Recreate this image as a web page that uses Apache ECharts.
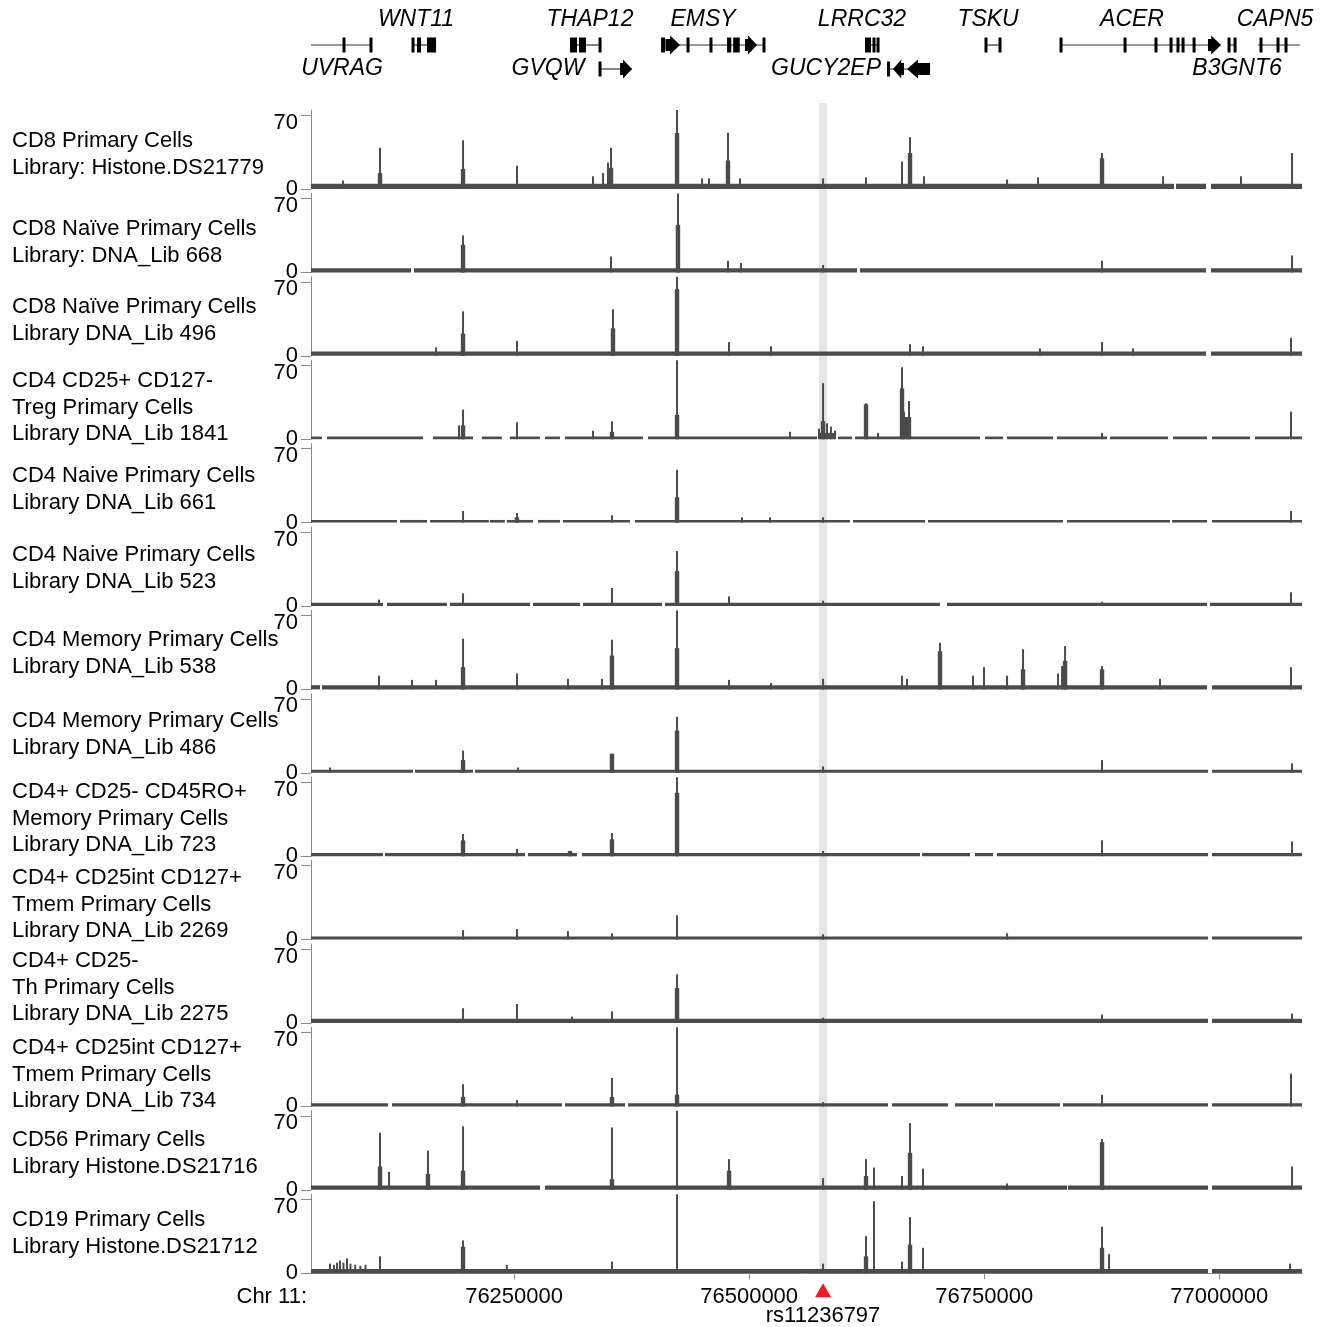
<!DOCTYPE html>
<html><head><meta charset="utf-8">
<script src="https://cdn.jsdelivr.net/npm/echarts@6/dist/echarts.min.js"></script>
<style>html,body{margin:0;padding:0;background:#fff}#c{width:1328px;height:1327px}</style>
</head><body><div id="c"></div>
<script>
// ---------- DATA (genomic positions in kb on chr11) ----------
const xTicks = [76250, 76500, 76750, 77000];
const yTicks = [0, 70];
const snpName = 'rs11236797';
const snpPos = 76578.6;
const highlightRange = [76574.3, 76582.8];

const trackLabels = [
  ['CD8 Primary Cells', 'Library: Histone.DS21779'],
  ['CD8 Naïve Primary Cells', 'Library: DNA_Lib 668'],
  ['CD8 Naïve Primary Cells', 'Library DNA_Lib 496'],
  ['CD4 CD25+ CD127-', 'Treg Primary Cells', 'Library DNA_Lib 1841'],
  ['CD4 Naive Primary Cells', 'Library DNA_Lib 661'],
  ['CD4 Naive Primary Cells', 'Library DNA_Lib 523'],
  ['CD4 Memory Primary Cells', 'Library DNA_Lib 538'],
  ['CD4 Memory Primary Cells', 'Library DNA_Lib 486'],
  ['CD4+ CD25- CD45RO+', 'Memory Primary Cells', 'Library DNA_Lib 723'],
  ['CD4+ CD25int CD127+', 'Tmem Primary Cells', 'Library DNA_Lib 2269'],
  ['CD4+ CD25-', 'Th Primary Cells', 'Library DNA_Lib 2275'],
  ['CD4+ CD25int CD127+', 'Tmem Primary Cells', 'Library DNA_Lib 734'],
  ['CD56 Primary Cells', 'Library Histone.DS21716'],
  ['CD19 Primary Cells', 'Library Histone.DS21712']
];

// peaks: [position kb, height, shoulder height]
const peaksT01 = [[76068.0,8,0],[76107.4,39,15],[76195.7,46,19],[76253.1,22,0],[76333.9,12,0],[76344.6,15,0],[76349.9,25,0],[76353.1,39,20],[76423.3,76,53],[76449.9,10,0],[76457.3,10,0],[76477.5,53,27],[76490.3,10,0],[76578.6,10,0],[76624.3,11,0],[76662.6,26,0],[76671.1,49,34],[76686.0,12,0],[76774.3,9,0],[76807.2,11,0],[76875.3,34,29],[76940.2,12,0],[77023.1,12,0],[77077.4,34,0]];
const peaksT02 = [[76195.7,35,26],[76353.1,15,0],[76424.3,76,45],[76477.5,11,0],[76491.3,9,0],[76578.6,7,0],[76875.3,11,0],[77077.4,16,0]];
const peaksT03 = [[76167.0,8,0],[76195.7,42,21],[76253.1,14,0],[76355.2,44,26],[76423.3,76,63],[76478.6,13,0],[76523.3,9,0],[76671.1,11,0],[76684.9,9,0],[76809.3,7,0],[76875.3,13,0],[76908.3,7,0],[77076.3,17,0]];
const peaksT04 = [[76191.4,13,0],[76195.7,28,13],[76253.1,16,0],[76333.9,8,0],[76354.1,17,7],[76423.3,76,23],[76543.5,7,0],[76574.3,10,0],[76578.6,53,17],[76582.8,15,0],[76587.0,12,0],[76591.3,8,0],[76624.3,34,33],[76637.1,6,0],[76662.6,68,48],[76664.7,26,0],[76666.8,21,0],[76670.0,36,21],[76875.3,6,0],[77076.3,26,0]];
const peaksT05 = [[76195.7,11,0],[76253.1,9,5],[76354.1,7,0],[76423.3,50,24],[76492.4,5,0],[76522.2,5,0],[76578.6,5,0],[77076.3,11,0]];
const peaksT06 = [[76106.3,6,0],[76195.7,12,0],[76354.1,17,0],[76423.3,52,33],[76478.6,9,0],[76578.6,5,0],[76875.3,4,0],[77076.3,13,0]];
const peaksT07 = [[76106.3,13,0],[76141.4,9,0],[76167.0,9,0],[76195.7,48,21],[76253.1,15,0],[76307.3,10,0],[76343.5,10,0],[76354.1,47,32],[76423.3,76,39],[76478.6,9,0],[76523.3,6,0],[76578.6,10,0],[76662.6,13,0],[76667.9,10,0],[76703.0,44,36],[76738.1,13,0],[76749.8,21,0],[76774.3,13,0],[76791.3,38,19],[76828.5,15,0],[76832.8,22,0],[76836.0,41,27],[76875.3,22,19],[76937.0,10,0],[77076.3,21,0]];
const peaksT08 = [[76054.2,5,0],[76195.7,21,12],[76254.2,5,0],[76354.1,18,18],[76423.3,53,40],[76578.6,6,0],[76875.3,12,0],[77077.4,9,0]];
const peaksT09 = [[76195.7,21,15],[76253.1,7,0],[76309.5,5,5],[76354.1,22,16],[76423.3,75,60],[76578.6,5,0],[76875.3,15,0],[77077.4,14,0]];
const peaksT10 = [[76195.7,9,0],[76253.1,10,0],[76307.3,8,0],[76354.1,6,0],[76423.3,23,0],[76578.6,5,0],[76774.3,6,0]];
const peaksT11 = [[76195.7,14,0],[76253.1,18,0],[76311.6,6,0],[76354.1,11,0],[76423.3,46,33],[76578.6,5,0],[76875.3,8,0],[77077.4,9,0]];
const peaksT12 = [[76195.7,21,9],[76253.1,6,0],[76354.1,27,9],[76423.3,75,11],[76578.6,4,0],[76875.3,11,0],[77076.3,31,0]];
const peaksT13 = [[76107.4,54,22],[76117.0,17,0],[76158.4,37,15],[76195.7,60,18],[76354.1,59,10],[76423.3,76,0],[76478.6,29,18],[76578.6,11,0],[76624.3,29,13],[76632.8,21,0],[76662.6,13,0],[76671.1,63,35],[76684.9,20,0],[76774.3,6,0],[76875.3,48,45],[77077.4,22,0]];
const peaksT14 = [[76054.2,9,0],[76058.5,8,0],[76061.7,10,0],[76064.8,12,0],[76068.5,10,0],[76072.3,14,0],[76076.0,9,0],[76081.0,8,0],[76086.5,7,0],[76092.0,8,0],[76107.4,16,0],[76195.7,31,25],[76242.3,8,0],[76354.1,11,0],[76423.3,76,0],[76578.6,9,0],[76624.3,35,16],[76632.8,68,0],[76662.6,11,0],[76671.1,53,27],[76684.9,24,0],[76875.3,44,24],[76882.8,18,0],[77075.3,9,0]];

// background signal segments: [start kb, end kb, level]
const bgT01 = [[76034,76951.9,5],[76954.0,76985.9,5],[76991.2,77088,5]];
const bgT02 = [[76034,76140.4,4],[76143.5,76614.7,4],[76617.9,76985.9,4],[76991.2,77088,4]];
const bgT03 = [[76034,76985.9,4],[76991.2,77088,4]];
const bgT04 = [[76034,76045.7,2.5],[76051.0,76153.1,2.5],[76163.8,76206.3,2.5],[76215.7,76237.0,2.5],[76245.5,76277.6,2.5],[76282.9,76298.8,2.5],[76304.2,76387.1,2.5],[76392.4,76572.2,2.5],[76574.3,76591.3,6],[76594.5,76609.4,2.5],[76612.6,76745.5,2.5],[76750.9,76770.0,2.5],[76774.3,76823.2,2.5],[76827.4,76880.6,2.5],[76883.8,76945.5,2.5],[76950.8,76987.0,2.5],[76992.3,77032.7,2.5],[77038.0,77088,2.5]];
const bgT05 = [[76034,76125.5,2.5],[76128.7,76157.4,2.5],[76160.6,76223.2,2.5],[76224.3,76240.2,2.5],[76242.3,76270.1,2.5],[76275.4,76298.8,2.5],[76302.0,76373.3,2.5],[76378.6,76607.3,2.5],[76610.5,76687.1,2.5],[76690.2,76833.8,2.5],[76838.1,76947.6,2.5],[76949.8,76987.0,2.5],[76992.3,77088,2.5]];
const bgT06 = [[76034,76110.6,3],[76114.8,76178.6,3],[76181.8,76266.9,3],[76270.1,76320.1,3],[76323.3,76407.3,3],[76410.5,76703.0,3],[76710.4,76987.0,3],[76990.2,77088,3]];
const bgT07 = [[76034,76043.6,4],[76045.7,76987.0,4],[76992.3,77088,4]];
const bgT08 = [[76034,76142.5,3],[76144.6,76206.3,3],[76208.5,76988.0,3],[76992.3,77088,3]];
const bgT09 = [[76034,76110.6,3],[76112.7,76261.6,3],[76264.8,76316.9,3],[76322.2,76681.7,3],[76683.9,76734.9,3],[76740.2,76759.4,3],[76763.6,76988.0,3],[76992.3,77088,3]];
const bgT10 = [[76034,76988.0,3],[76992.3,77088,3]];
const bgT11 = [[76034,76988.0,4],[76992.3,77088,4]];
const bgT12 = [[76034,76115.9,3],[76120.2,76301.0,3],[76304.2,76368.0,3],[76371.2,76647.7,3],[76651.9,76711.5,3],[76719.0,76759.4,3],[76761.5,76830.6,3],[76833.8,76988.0,3],[76992.3,77088,3]];
const bgT13 = [[76034,76277.6,4],[76282.9,76838.1,4],[76839.1,76988.0,4],[76992.3,77088,4]];
const bgT14 = [[76034,76988.0,4],[76992.3,77088,4]];

// gene models
const geneNames = ['UVRAG','WNT11','THAP12','EMSY','GVQW','LRRC32','GUCY2EP','TSKU','ACER','B3GNT6','CAPN5'];
const geneRow = [1,1,1,1,2,1,2,1,1,1,1];
const geneLabelRow = ['below','above','above','above','same','above','same','above','above','below','above'];
const geneLabelAt = [76067.0,76145.7,76330.7,76450.9,76286.1,76620.0,76581.8,76754.1,76907.2,77018.9,77059.3];
const geneSpan = [[76034,76098.9],[76142.5,76167.0],[76309.5,76341.4],[76406.3,76515.8],[76341.4,76375.4],[76623.2,76637.1],[76647.7,76692.4],[76751.9,76766.8],[76831.7,77001.9],[77010.4,77016.8],[77041.2,77085.9]];
const geneExons = [
  [[76069.1,76069.1,'t'],[76097.8,76097.8,'t']],
  [[76142.5,76142.5,'t'],[76146.7,76151.0,'b'],[76157.4,76167.0,'b']],
  [[76309.5,76316.9,'b'],[76319.0,76326.5,'b'],[76341.4,76341.4,'t']],
  [[76406.3,76410.5,'b'],[76411.0,76426.5,'R'],[76435.0,76435.0,'t'],[76459.4,76459.4,'t'],[76476.5,76481.0,'b'],[76483.0,76490.0,'b'],[76495.6,76508.4,'R'],[76515.8,76515.8,'t']],
  [[76341.4,76341.4,'t'],[76362.7,76375.4,'R']],
  [[76623.2,76629.6,'b'],[76632.8,76632.8,'t'],[76637.1,76637.1,'t']],
  [[76646.6,76649.5,'b'],[76653.0,76664.7,'L'],[76667.9,76692.4,'L']],
  [[76751.9,76751.9,'t'],[76766.8,76766.8,'t']],
  [[76831.7,76831.7,'t'],[76899.8,76899.8,'t'],[76932.7,76932.7,'t'],[76948.7,76948.7,'t'],[76956.1,76956.1,'t'],[76961.5,76961.5,'t'],[76973.2,76973.2,'t'],[76988.0,77001.9,'R']],
  [[77010.4,77010.4,'t'],[77016.8,77016.8,'t']],
  [[77044.4,77044.4,'t'],[77062.5,77062.5,'t'],[77071.0,77071.0,'t']]
];

const trackPeaks = [peaksT01,peaksT02,peaksT03,peaksT04,peaksT05,peaksT06,peaksT07,peaksT08,peaksT09,peaksT10,peaksT11,peaksT12,peaksT13,peaksT14];
const trackBg = [bgT01,bgT02,bgT03,bgT04,bgT05,bgT06,bgT07,bgT08,bgT09,bgT10,bgT11,bgT12,bgT13,bgT14];

// ---------- LAYOUT ----------
const FONT = '"Liberation Sans", Arial, Helvetica, sans-serif';
const FS = 22;
const X_MIN = 76034, X_MAX = 77088, Y_MAX = 74.7;
const PLOT_LEFT = 311, PLOT_RIGHT = 26;
const TRACK_TOP0 = 110, TRACK_STEP = 83.4, TRACK_H = 79;
const ROW_Y = {1: 45, 2: 69};
const LABEL_ABOVE_Y = 20;
const labelFirstLineY = [141,229,307,381,476,555,640,721,792,878,961,1048,1140,1220];
const LINE_GAP = 26.5;
const BAR = '#4b4b4b';
const AXIS = '#8a8a8a';

const chart = echarts.init(document.getElementById('c'), null, {renderer: 'canvas'});

const grids = [], xAxes = [], yAxes = [], series = [];

// gene grid (index 0)
grids.push({left: PLOT_LEFT, right: PLOT_RIGHT, top: 0, height: 100});
xAxes.push({type: 'value', gridIndex: 0, min: X_MIN, max: X_MAX, show: false});
yAxes.push({type: 'value', gridIndex: 0, min: 0, max: 100, inverse: true, show: false});

function renderGene(params, api) {
  const i = api.value(2);
  const rowY = ROW_Y[geneRow[i]];
  const s = api.coord([geneSpan[i][0], rowY]);
  const e = api.coord([geneSpan[i][1], rowY]);
  const y = s[1];
  const ch = [{type: 'rect', shape: {x: s[0], y: y - 0.6, width: Math.max(e[0] - s[0], 1), height: 1.2}, style: {fill: '#333'}}];
  geneExons[i].forEach(ex => {
    const a = api.coord([ex[0], rowY])[0];
    const b = api.coord([ex[1], rowY])[0];
    if (ex[2] === 't') {
      ch.push({type: 'rect', shape: {x: a - 1.5, y: y - 7.5, width: 3, height: 15}, style: {fill: '#000'}});
    } else if (ex[2] === 'b') {
      ch.push({type: 'rect', shape: {x: a, y: y - 7.5, width: Math.max(b - a, 3), height: 15}, style: {fill: '#000'}});
    } else if (ex[2] === 'R') {
      const h = Math.min(10, (b - a) * 0.75);
      ch.push({type: 'polygon', shape: {points: [[a, y - 6], [b - h, y - 6], [b - h, y - 9.5], [b, y], [b - h, y + 9.5], [b - h, y + 6], [a, y + 6]]}, style: {fill: '#000'}});
    } else {
      const h = Math.min(11, (b - a) * 0.75);
      ch.push({type: 'polygon', shape: {points: [[b, y - 6], [a + h, y - 6], [a + h, y - 9.5], [a, y], [a + h, y + 9.5], [a + h, y + 6], [b, y + 6]]}, style: {fill: '#000'}});
    }
  });
  const place = geneLabelRow[i];
  const ly = place === 'above' ? LABEL_ABOVE_Y : ROW_Y[2];
  const lp = api.coord([geneLabelAt[i], ly]);
  ch.push({type: 'text', style: {text: geneNames[i], x: lp[0], y: lp[1], fill: '#000', font: 'italic 23px ' + FONT, align: 'center', verticalAlign: 'middle'}});
  return {type: 'group', children: ch};
}
series.push({
  type: 'custom', xAxisIndex: 0, yAxisIndex: 0, renderItem: renderGene, silent: true,
  encode: {x: [0, 1], y: 2},
  data: geneNames.map((n, i) => [geneSpan[i][0], geneSpan[i][1], i])
});

function renderPeak(params, api) {
  const p = api.value(0);
  const h = Math.min(api.value(1), Y_MAX);
  const sh = Math.min(api.value(2), Y_MAX);
  const base = api.coord([p, 0]);
  const top = api.coord([p, h]);
  const ch = [];
  if (sh > 0) {
    const st = api.coord([p, sh]);
    ch.push({type: 'rect', shape: {x: base[0] - 2.2, y: st[1], width: 4.4, height: base[1] - st[1]}, style: {fill: BAR}});
  }
  ch.push({type: 'rect', shape: {x: base[0] - 1, y: top[1], width: 2, height: base[1] - top[1]}, style: {fill: BAR}});
  return {type: 'group', children: ch};
}
function renderBg(params, api) {
  const a = api.coord([api.value(0), api.value(2)]);
  const b = api.coord([api.value(1), 0]);
  return {type: 'rect', shape: {x: a[0], y: a[1], width: b[0] - a[0], height: b[1] - a[1]}, style: {fill: BAR}};
}

for (let t = 0; t < 14; t++) {
  const gi = t + 1;
  const last = t === 13;
  grids.push({left: PLOT_LEFT, right: PLOT_RIGHT, top: TRACK_TOP0 + t * TRACK_STEP, height: TRACK_H});
  xAxes.push({
    type: 'value', gridIndex: gi, min: X_MIN, max: X_MAX, show: last,
    axisLine: {show: last, lineStyle: {color: AXIS, width: 1}},
    axisTick: {show: last, customValues: xTicks, length: 6, lineStyle: {color: AXIS}},
    axisLabel: {show: last, customValues: xTicks, formatter: v => String(Math.round(v * 1000)), fontSize: FS, color: '#000', fontFamily: FONT, margin: 13},
    splitLine: {show: false}
  });
  yAxes.push({
    type: 'value', gridIndex: gi, min: 0, max: Y_MAX,
    axisLine: {show: true, lineStyle: {color: AXIS, width: 1}},
    axisTick: {show: true, customValues: yTicks, length: 10, lineStyle: {color: AXIS}},
    axisLabel: {
      show: true, customValues: yTicks, margin: 13, color: '#000', fontFamily: FONT, fontSize: FS,
      formatter: v => v === 70 ? '{hi|70}' : '{lo|0}',
      rich: {hi: {fontSize: FS, fontFamily: FONT, color: '#000', padding: [15, 0, 0, 0]}, lo: {fontSize: FS, fontFamily: FONT, color: '#000'}}
    },
    splitLine: {show: false}
  });
  series.push({type: 'custom', xAxisIndex: gi, yAxisIndex: gi, renderItem: renderBg, silent: true, z: 2,
    encode: {x: [0, 1], y: 2}, data: trackBg[t]});
  series.push({type: 'custom', xAxisIndex: gi, yAxisIndex: gi, renderItem: renderPeak, silent: true, z: 3,
    encode: {x: 0, y: 1}, data: trackPeaks[t]});
}

chart.setOption({
  animation: false,
  backgroundColor: '#fff',
  grid: grids, xAxis: xAxes, yAxis: yAxes, series: series
});

// overlay graphics positioned through the axis scale
const lastX = 14;
const hx0 = chart.convertToPixel({xAxisIndex: lastX}, highlightRange[0]);
const hx1 = chart.convertToPixel({xAxisIndex: lastX}, highlightRange[1]);
const sx = chart.convertToPixel({xAxisIndex: lastX}, snpPos);
const axisBottom = TRACK_TOP0 + 13 * TRACK_STEP + TRACK_H;
const graphics = [
  {type: 'rect', z: 0, silent: true, shape: {x: hx0, y: 103, width: hx1 - hx0, height: axisBottom - 103}, style: {fill: '#e6e6e6'}},
  {type: 'polygon', z: 10, silent: true, shape: {points: [[sx, axisBottom + 10], [sx - 8, axisBottom + 24], [sx + 8, axisBottom + 24]]}, style: {fill: '#ee1c1c'}},
  {type: 'text', z: 10, silent: true, style: {text: snpName, x: sx, y: axisBottom + 43, align: 'center', verticalAlign: 'middle', font: FS + 'px ' + FONT, fill: '#000'}},
  {type: 'text', z: 10, silent: true, style: {text: 'Chr 11:', x: 307, y: axisBottom + 24, align: 'right', verticalAlign: 'middle', font: FS + 'px ' + FONT, fill: '#000'}}
];
trackLabels.forEach((lines, t) => {
  lines.forEach((ln, k) => {
    graphics.push({type: 'text', z: 10, silent: true, style: {text: ln, x: 12, y: labelFirstLineY[t] + k * LINE_GAP, align: 'left', verticalAlign: 'middle', font: FS + 'px ' + FONT, fill: '#000'}});
  });
});
chart.setOption({graphic: graphics});
</script>
</body></html>
